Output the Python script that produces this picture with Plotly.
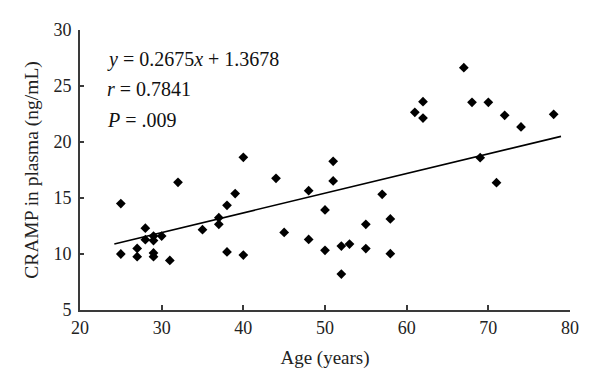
import plotly.graph_objects as go

# Data
age = [25, 25, 27, 27, 28, 28, 29, 29, 29, 29, 30, 31, 32, 35, 37, 37, 38, 38, 39, 40,
       40, 44, 45, 48, 48, 50, 50, 51, 51, 52, 52, 53, 55, 55, 57, 58, 58, 61, 62, 62,
       67, 68, 69, 70, 71, 72, 74, 78]
cramp = [14.5, 10.0, 10.5, 9.76, 12.3, 11.28, 11.6, 11.2, 10.1, 9.76, 11.6, 9.43, 16.4,
         12.17, 13.24, 12.65, 14.35, 10.18, 15.4, 9.9, 18.63, 16.76, 11.93, 15.65, 11.3,
         13.93, 10.33, 18.28, 16.52, 10.71, 8.21, 10.89, 12.65, 10.48, 15.33, 13.13, 10.03,
         22.65, 23.6, 22.14, 26.64, 23.54, 18.6, 23.54, 16.37, 22.38, 21.34, 22.47]
trend_x = [24.2, 78.9]
trend_y = [10.9, 20.5]
x_ticks = [20, 30, 40, 50, 60, 70, 80]
y_ticks = [5, 10, 15, 20, 25, 30]
stats_lines = ["<i>y</i> = 0.2675<i>x</i> + 1.3678", "<i>r</i> = 0.7841", "<i>P</i> = .009"]
stats_y = [27.4, 24.7, 22.0]

FONT = "Liberation Serif"
AXC = "#3a3a3a"

fig = go.Figure()
fig.add_trace(go.Scatter(x=trend_x, y=trend_y, mode="lines",
                         line=dict(color="black", width=1.6), showlegend=False))
fig.add_trace(go.Scatter(x=age, y=cramp, mode="markers",
                         marker=dict(symbol="diamond", size=7.5, color="black"),
                         showlegend=False))

for txt, yy in zip(stats_lines, stats_y):
    fig.add_annotation(x=23.1, y=yy, xref="x", yref="y", text=txt, showarrow=False,
                       xanchor="left", yanchor="middle",
                       font=dict(family=FONT, size=20, color="#111"))

fig.update_layout(
    width=600, height=388,
    margin=dict(l=80, r=30, t=30, b=78, autoexpand=False),
    paper_bgcolor="white", plot_bgcolor="white",
    font=dict(family=FONT, size=18, color="#222"),
    xaxis=dict(range=[20, 80], tickvals=x_ticks, showgrid=False, zeroline=False,
               automargin=False,
               showline=True, linecolor=AXC, linewidth=2, ticks="inside", ticklen=5,
               tickwidth=1.5, tickcolor=AXC, tickfont=dict(size=18),
               title=dict(text="Age (years)", font=dict(size=19), standoff=14)),
    yaxis=dict(range=[5, 30], tickvals=y_ticks, showgrid=False, zeroline=False,
               automargin=False, ticklabelstandoff=3,
               showline=True, linecolor=AXC, linewidth=2, ticks="inside", ticklen=4,
               tickwidth=1.5, tickcolor=AXC, tickfont=dict(size=18),
               title=dict(text="CRAMP in plasma (ng/mL)", font=dict(size=19.5), standoff=10)),
)

fig.write_html("out.html", config={"displayModeBar": False},
               post_script="document.body.style.margin='0';")
